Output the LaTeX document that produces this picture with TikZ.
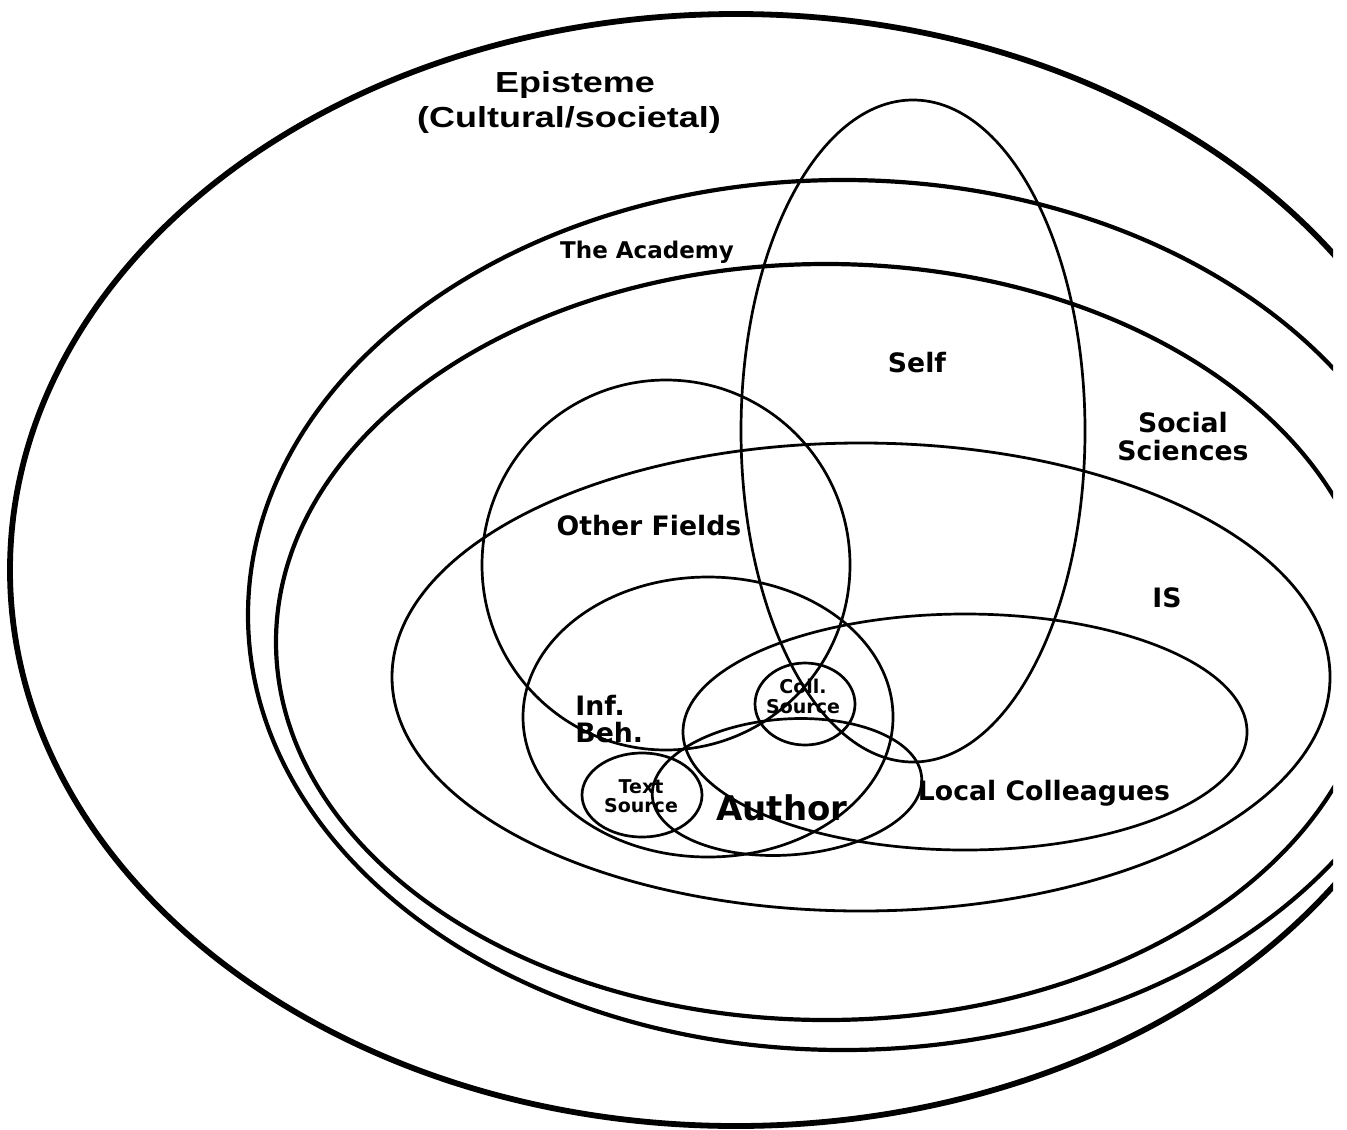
\documentclass[tikz,border=0pt]{standalone}
\usepackage{fontspec}
\newfontfamily\dvs{DejaVu Sans}
\newfontfamily\libs[FakeStretch=1.24]{Liberation Sans}
\begin{document}
\begin{tikzpicture}[x=0.5pt,y=-0.5pt]
\tikzset{
  epi/.style={line width=2.9pt},
  acad/.style={line width=2.1pt},
  ring/.style={line width=1.4pt},
  inner/.style={line width=1.35pt},
  lbl/.style={font=\dvs\bfseries\fontsize{13.35}{15}\selectfont, inner sep=0pt, anchor=base},
  lblA/.style={font=\libs\bfseries\fontsize{14.5}{16}\selectfont, inner sep=0pt, anchor=base},
  small/.style={font=\dvs\bfseries\fontsize{9.5}{11}\selectfont, inner sep=0pt, anchor=base},
}
\useasboundingbox (0,0) rectangle (1347,1129);
\fill[white] (0,0) rectangle (1347,1129);
\begin{scope}
  \clip (0,0) rectangle (1333,1129);
  \draw[epi] (736,570) ellipse [x radius=726, y radius=556];
  \draw[acad] (843,615) ellipse [x radius=595, y radius=435];
  \draw[acad] (826,642) ellipse [x radius=550, y radius=378];
  \draw[ring] (861,677) ellipse [x radius=469, y radius=234];
\end{scope}
% Self
\draw[inner] (913,431) ellipse [x radius=172, y radius=331];
% Other Fields
\draw[inner] (666,565) ellipse [x radius=184, y radius=185];
% Inf. Beh.
\draw[inner] (708,717) ellipse [x radius=185, y radius=140];
% Local Colleagues
\draw[inner] (965,732) ellipse [x radius=282, y radius=118];
% Author
\draw[inner, rotate around={4:(787,787)}] (787,787) ellipse [x radius=135, y radius=68];
% Coll. Source
\draw[inner] (805,704) ellipse [x radius=50, y radius=41];
% Text Source
\draw[inner] (642,795) ellipse [x radius=60, y radius=42];

\node[lblA] (epi1) at (575,93) {Episteme};
\node[lblA] (epi2) at (569,127) {(Cultural/societal)};
\node[lbl, font=\dvs\bfseries\fontsize{11.5}{13}\selectfont] (acad) at (647,258) {The Academy};
\node[lbl] (self) at (917,372) {Self};
\node[lbl] (soc1) at (1183,432) {Social};
\node[lbl] (soc2) at (1183,460) {Sciences};
\node[lbl] (other) at (649,535) {Other Fields};
\node[lbl] (is) at (1167,607) {IS};
\node[lbl, anchor=base west] (inf1) at (575,715) {Inf.};
\node[lbl, anchor=base west] (inf2) at (575,742) {Beh.};
\node[small] (coll1) at (803,693) {Coll.};
\node[small] (coll2) at (803,713) {Source};
\node[small] (txt1) at (641,793) {Text};
\node[small] (txt2) at (641,812) {Source};
\node[lbl, font=\dvs\bfseries\fontsize{17}{19}\selectfont] (author) at (782,820) {Author};
\node[lbl] (lc) at (1044,800) {Local Colleagues};
\end{tikzpicture}
\end{document}
